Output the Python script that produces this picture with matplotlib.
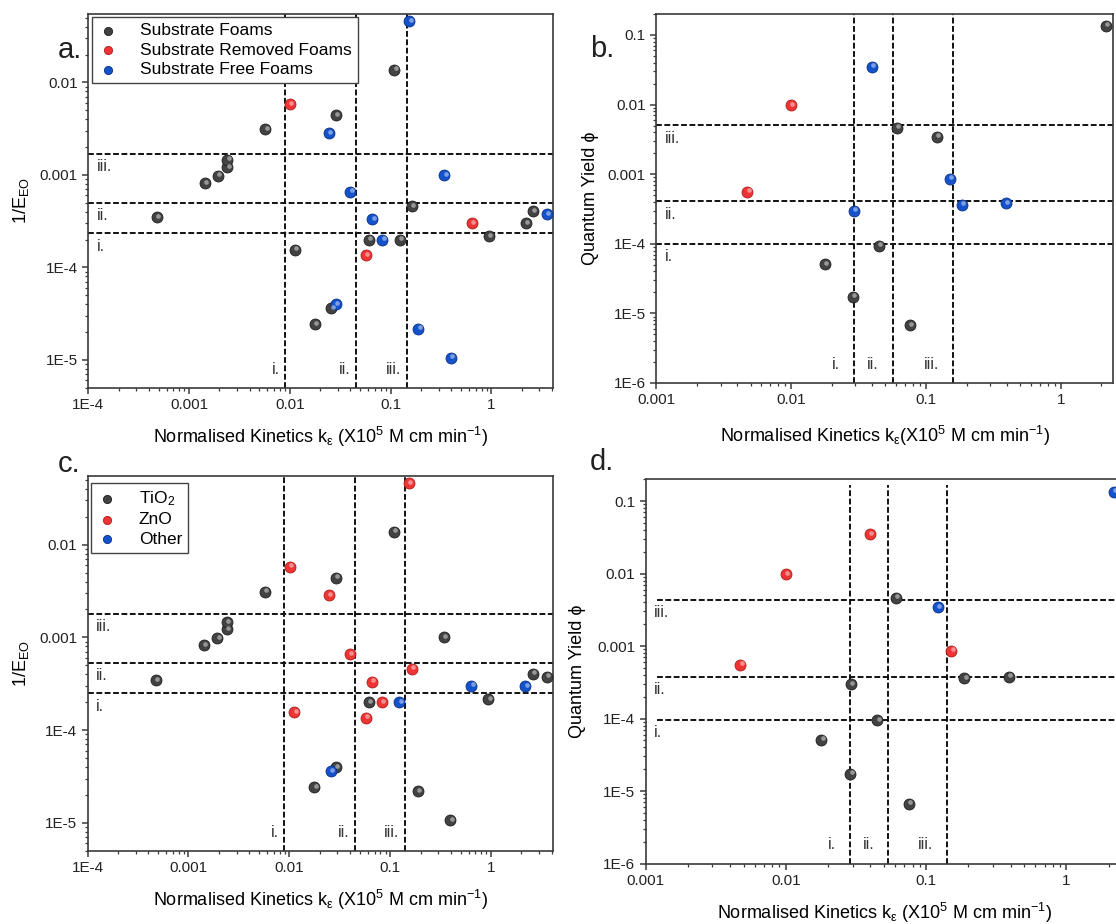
import numpy as np
import matplotlib
matplotlib.use("Agg")
import matplotlib.pyplot as plt
from matplotlib.ticker import LogLocator, FuncFormatter, NullFormatter
from matplotlib.transforms import offset_copy, blended_transform_factory

plt.rcParams['font.family'] = ['Liberation Sans', 'DejaVu Sans']
plt.rcParams['mathtext.default'] = 'regular'

# ---------------- data ----------------
# Panel a: 1/EEO vs normalised kinetics, grouped by substrate
sub_foams_k = [4.8e-4, 1.43e-3, 1.94e-3, 2.4e-3, 2.4e-3, 5.74e-3, 0.0289, 0.109, 0.0112,
               0.0177, 0.0258, 0.0612, 0.123, 0.164, 0.94, 2.19, 2.58]
sub_foams_e = [3.47e-4, 8.2e-4, 9.8e-4, 1.22e-3, 1.46e-3, 3.11e-3, 4.4e-3, 0.0138, 1.56e-4,
               2.43e-5, 3.6e-5, 2.0e-4, 2.0e-4, 4.6e-4, 2.16e-4, 2.99e-4, 4.06e-4]
removed_k = [0.0101, 0.0574, 0.638]
removed_e = [5.8e-3, 1.36e-4, 3.0e-4]
free_k = [0.154, 0.0245, 0.040, 0.0289, 0.066, 0.083, 0.343, 0.189, 0.394, 3.55]
free_e = [0.046, 2.84e-3, 6.56e-4, 4.0e-5, 3.33e-4, 2.0e-4, 1.0e-3, 2.18e-5, 1.06e-5, 3.77e-4]

# Panel c: same data grouped by material
tio2_k = [4.8e-4, 1.43e-3, 1.94e-3, 2.4e-3, 2.4e-3, 5.74e-3, 0.0289, 0.109, 0.0177,
          0.0612, 0.94, 2.58, 0.0289, 0.343, 0.189, 0.394, 3.55]
tio2_e = [3.47e-4, 8.2e-4, 9.8e-4, 1.22e-3, 1.46e-3, 3.11e-3, 4.4e-3, 0.0138, 2.43e-5,
          2.0e-4, 2.16e-4, 4.06e-4, 4.0e-5, 1.0e-3, 2.18e-5, 1.06e-5, 3.77e-4]
zno_k = [0.0101, 0.0245, 0.040, 0.0112, 0.0574, 0.066, 0.083, 0.154, 0.164]
zno_e = [5.8e-3, 2.84e-3, 6.56e-4, 1.56e-4, 1.36e-4, 3.33e-4, 2.0e-4, 0.046, 4.6e-4]
other_k = [0.0258, 0.123, 0.638, 2.19]
other_e = [3.6e-5, 2.0e-4, 3.0e-4, 2.99e-4]

# Panel b: quantum yield, grouped by substrate
b_black_k = [2.17, 0.061, 0.121, 0.045, 0.0179, 0.0288, 0.0755]
b_black_q = [0.135, 4.65e-3, 3.45e-3, 9.4e-5, 5.1e-5, 1.74e-5, 6.7e-6]
b_red_k = [0.00993, 4.74e-3]
b_red_q = [9.8e-3, 5.6e-4]
b_blue_k = [0.0397, 0.0291, 0.151, 0.185, 0.391]
b_blue_q = [0.035, 3.0e-4, 8.6e-4, 3.63e-4, 3.84e-4]

# Panel d: quantum yield, grouped by material
d_black_k = [0.061, 0.029, 0.045, 0.0179, 0.0288, 0.0755, 0.187, 0.387]
d_black_q = [4.65e-3, 3.0e-4, 9.4e-5, 5.1e-5, 1.74e-5, 6.7e-6, 3.6e-4, 3.8e-4]
d_red_k = [0.01, 4.74e-3, 0.0397, 0.151]
d_red_q = [9.8e-3, 5.5e-4, 0.035, 8.6e-4]
d_blue_k = [0.121, 2.17]
d_blue_q = [3.45e-3, 0.135]

# Region boundaries
a_hlines = [2.34e-4, 5.0e-4, 1.69e-3]
a_vlines = [9.06e-3, 0.0453, 0.1445]
b_hlines = [1.0e-4, 4.1e-4, 5.08e-3]
b_vlines = [0.0294, 0.0566, 0.158]
c_hlines = [2.5e-4, 5.3e-4, 1.8e-3]
c_vlines = [8.9e-3, 0.0447, 0.14]
d_hlines = [9.6e-5, 3.8e-4, 4.34e-3]
d_vlines = [0.0286, 0.0536, 0.1406]
region_labels = ['i.', 'ii.', 'iii.']

legend_a = ['Substrate Foams', 'Substrate Removed Foams', 'Substrate Free Foams']
legend_c = ['TiO$_2$', 'ZnO', 'Other']

xlabel_ac = r'Normalised Kinetics k$_{\varepsilon}$ (X10$^5$ M cm min$^{-1}$)'
xlabel_b = r'Normalised Kinetics k$_{\varepsilon}$(X10$^5$ M cm min$^{-1}$)'
ylabel_ac = '1/E$_{EO}$'
ylabel_bd = 'Quantum Yield ϕ'

# ---------------- style ----------------
GRAY = ('#424242', '#1e1e1e')
RED = ('#ee3434', '#b01c1c')
BLUE = ('#1452cc', '#0a2f85')
SP = '#3a3a3a'

W, H = 1116, 924
fig = plt.figure(figsize=(W / 100, H / 100), dpi=100)


def px_axes(left, right, top, bottom):
    return fig.add_axes([left / W, 1 - bottom / H, (right - left) / W, (bottom - top) / H])


def fmt(v, pos):
    if v >= 0.001 - 1e-12:
        return f'{v:g}'
    return f'1E{int(round(np.log10(v)))}'


def style(ax, xlim, ylim):
    ax.set_xscale('log')
    ax.set_yscale('log')
    ax.set_xlim(*xlim)
    ax.set_ylim(*ylim)
    for s in ax.spines.values():
        s.set_color(SP)
        s.set_linewidth(1.2)
    for axis in (ax.xaxis, ax.yaxis):
        axis.set_major_locator(LogLocator(base=10, numticks=20))
        axis.set_minor_locator(LogLocator(base=10, subs=np.arange(2, 10), numticks=20))
        axis.set_major_formatter(FuncFormatter(fmt))
        axis.set_minor_formatter(NullFormatter())
    ax.tick_params(which='major', direction='out', length=4.5, width=1.1, color=SP,
                   labelsize=11, labelcolor='#222222', pad=3)
    ax.tick_params(which='minor', direction='out', length=2.5, width=0.9, color=SP)


def spheres(ax, x, y, cols, label=None, s=62):
    face, edge = cols
    h = ax.scatter(x, y, s=s, color=face, edgecolors=edge, linewidths=0.6, zorder=4, label=label)
    tr = offset_copy(ax.transData, fig=fig, x=0.9, y=1.0, units='points')
    ax.scatter(x, y, s=s * 0.18, color='white', alpha=0.45, linewidths=0, zorder=5, transform=tr)
    return h


def regions(ax, hl, vl, hx=0.0, vgap=4, hstart=0.0, vtop=1.0):
    for v in hl:
        ax.axhline(v, xmin=hstart, color='#111111', lw=1.4, ls=(0, (3.0, 1.3)), zorder=2)
    for v in vl:
        ax.axvline(v, ymax=vtop, color='#111111', lw=1.4, ls=(0, (3.0, 1.3)), zorder=2)
    th = blended_transform_factory(ax.transAxes, ax.transData)
    for v, t in zip(hl, region_labels):
        ax.annotate(t, xy=(hx, v), xycoords=th, xytext=(6, -4), textcoords='offset points',
                    ha='left', va='top', fontsize=11.5, color='#333333', zorder=3)
    tv = blended_transform_factory(ax.transData, ax.transAxes)
    for v, t in zip(vl, region_labels):
        ax.annotate(t, xy=(v, 0), xycoords=tv, xytext=(-vgap, 8), textcoords='offset points',
                    ha='right', va='bottom', fontsize=11.5, color='#333333', zorder=3)


def legend(ax, labels, handles):
    lg = ax.legend(handles, labels, loc='upper left', bbox_to_anchor=(0.008, 0.992),
                   borderaxespad=0, frameon=True, fancybox=False, edgecolor='#444444',
                   framealpha=1, fontsize=12.5, markerscale=0.75, handlelength=1.1,
                   handletextpad=1.3, labelspacing=0.25, borderpad=0.35)
    lg.get_frame().set_linewidth(1.0)
    lg.set_zorder(10)


# ---------------- panel a ----------------
axa = px_axes(88.3, 553, 14, 387.7)
style(axa, (1e-4, 4.1), (5e-6, 0.055))
regions(axa, a_hlines, a_vlines, vgap=4)
ha1 = spheres(axa, sub_foams_k, sub_foams_e, GRAY)
ha2 = spheres(axa, removed_k, removed_e, RED)
ha3 = spheres(axa, free_k, free_e, BLUE)
legend(axa, legend_a, [ha1, ha2, ha3])
axa.set_xlabel(xlabel_ac, fontsize=13, labelpad=9)
axa.set_ylabel(ylabel_ac, fontsize=13, labelpad=6)

# ---------------- panel b ----------------
axb = px_axes(656.3, 1113.3, 14, 383)
style(axb, (1e-3, 2.45), (1e-6, 0.2))
regions(axb, b_hlines, b_vlines, vgap=10)
spheres(axb, b_black_k, b_black_q, GRAY)
spheres(axb, b_red_k, b_red_q, RED)
spheres(axb, b_blue_k, b_blue_q, BLUE)
axb.set_xlabel(xlabel_b, fontsize=13, labelpad=12)
axb.set_ylabel(ylabel_bd, fontsize=13, labelpad=6)

# ---------------- panel c ----------------
axc = px_axes(87.5, 552.9, 476, 850.7)
style(axc, (1e-4, 4.1), (5e-6, 0.055))
regions(axc, c_hlines, c_vlines, vgap=4)
hc1 = spheres(axc, tio2_k, tio2_e, GRAY)
hc2 = spheres(axc, zno_k, zno_e, RED)
hc3 = spheres(axc, other_k, other_e, BLUE)
legend(axc, legend_c, [hc1, hc2, hc3])
axc.get_legend().set_bbox_to_anchor((0.008, 0.981))
axc.set_xlabel(xlabel_ac, fontsize=13, labelpad=9)
axc.set_ylabel(ylabel_ac, fontsize=13, labelpad=6)

# ---------------- panel d ----------------
axd = px_axes(645.5, 1123.5, 479.3, 863.5)
style(axd, (1e-3, 2.55), (1e-6, 0.2))
axd.spines['right'].set_visible(False)
regions(axd, d_hlines, d_vlines, vgap=10, hstart=0.025, vtop=0.985)
spheres(axd, d_black_k, d_black_q, GRAY)
spheres(axd, d_red_k, d_red_q, RED)
spheres(axd, d_blue_k, d_blue_q, BLUE)
axd.set_xlabel(xlabel_ac, fontsize=13, labelpad=9)
axd.set_ylabel(ylabel_bd, fontsize=13, labelpad=8)

# ---------------- panel letters ----------------
for t, x, y in [('a.', 58, 58), ('b.', 590, 57), ('c.', 58, 472), ('d.', 590, 470)]:
    fig.text(x / W, 1 - y / H, t, fontsize=21, color='#222222', ha='left', va='baseline')

fig.savefig('out.png', dpi=100)
